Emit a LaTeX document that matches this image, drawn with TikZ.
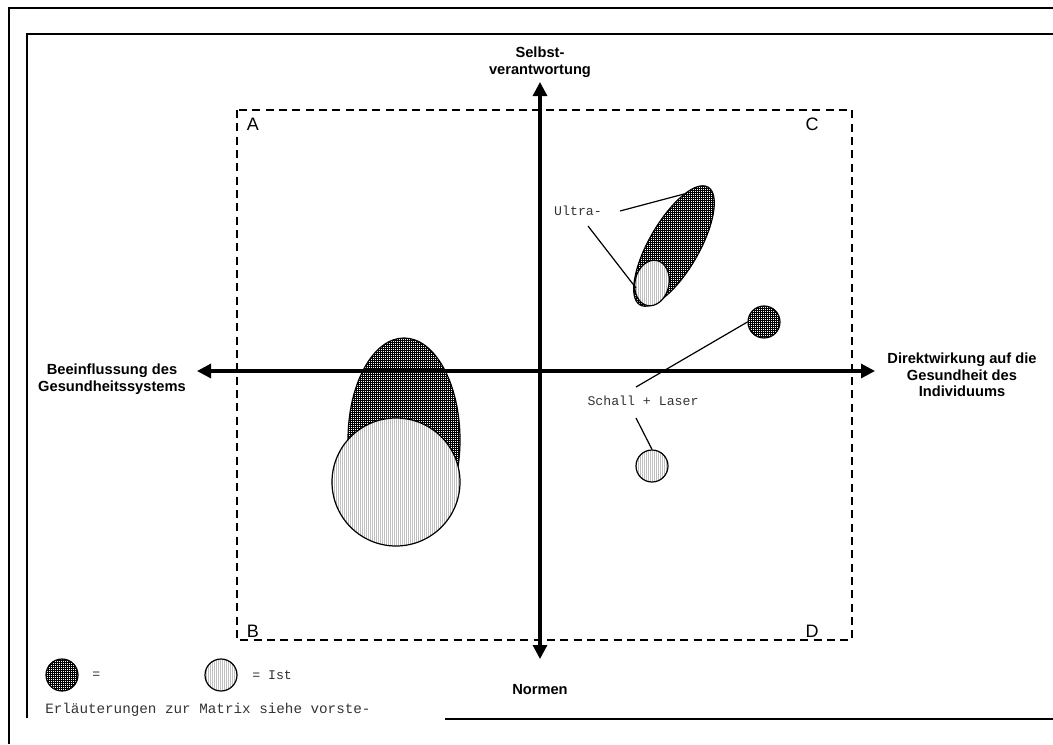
\documentclass[tikz,border=0pt]{standalone}
\usepackage{fontspec}
\setmainfont{Liberation Sans}
\newfontfamily\monofont{Liberation Mono}
\usetikzlibrary{arrows.meta,patterns.meta,shapes.geometric}
\begin{document}
\begin{tikzpicture}[x=0.75pt,y=-0.75pt,
  frameline/.style={line width=2.2pt},
  innerline/.style={line width=1.7pt},
  axis/.style={line width=2.3pt,-{Triangle[length=10.5pt,width=10.5pt]}},
  quad/.style={dashed,line width=0.8pt,dash pattern=on 6pt off 4pt},
  axislabel/.style={font=\bfseries\fontsize{11}{12.5}\selectfont,align=center,inner sep=0pt},
  letter/.style={font=\fontsize{13.5}{14}\selectfont,inner sep=0pt},
  mono/.style={font=\monofont\fontsize{9.9}{11}\selectfont,inner sep=0pt,text=black!80},
  darkfill/.style={draw,line width=0.9pt,preaction={fill=white},pattern={Hatch[angle=0,distance=1.5pt,line width=0.65pt]}},
  lightfill/.style={draw,line width=0.9pt,preaction={fill=white},pattern={Lines[angle=90,distance=1.5pt,line width=0.3pt]},pattern color=black!25},
  leader/.style={line width=0.9pt}]
\useasboundingbox (0,0) rectangle (1053,744);
% frames
\draw[frameline] (9,744) -- (9,8) -- (1053,8);
\draw[innerline] (27,718) -- (27,34) -- (1053,34);
\draw[innerline] (445,719) -- (1053,719);
% dashed quadrant box
\draw[quad] (237,110) rectangle (852,640);
\node[letter] (qa) at (253,124) {A};
\node[letter] (qc) at (812,124) {C};
\node[letter] (qb) at (253,631) {B};
\node[letter] (qd) at (812,631) {D};
% left shapes
\node[ellipse,darkfill,inner sep=0pt,minimum width=84pt,minimum height=153pt] (soll1) at (404,440) {};
\node[circle,lightfill,inner sep=0pt,minimum size=96pt] (ist1) at (396,482) {};
% axes
\coordinate (cen) at (540,371);
\coordinate (ytop) at (540,82);
\coordinate (ybot) at (540,659);
\coordinate (xleft) at (197,371);
\coordinate (xright) at (875,371);
\draw[axis] (cen) -- (ytop);
\draw[axis] (cen) -- (ybot);
\draw[axis] (cen) -- (xleft);
\draw[axis] (cen) -- (xright);
\node[axislabel] (lt) at (540,62) {Selbst-\\verantwortung};
\node[axislabel] (lb) at (540,690) {Normen};
\node[axislabel] (ll) at (112,379) {Beeinflussung des\\Gesundheitssystems};
\node[axislabel] (lr) at (962,375) {Direktwirkung auf die\\Gesundheit des\\Individuums};
% Ultra
\node[ellipse,darkfill,inner sep=0pt,minimum width=102pt,minimum height=37.5pt,rotate=60] (soll2) at (674,246) {};
\node[ellipse,lightfill,inner sep=0pt,minimum width=25.5pt,minimum height=34.5pt,rotate=-12] (ist2) at (652,283) {};
\node[mono] (ultra) at (578,211) {Ultra-};
\coordinate (u1s) at (620,211);
\coordinate (u1e) at (684,194);
\coordinate (u2s) at (588,226);
\coordinate (u2e) at (636,288);
\draw[leader] (u1s) -- (u1e);
\draw[leader] (u2s) -- (u2e);
% Schall + Laser
\node[circle,darkfill,inner sep=0pt,minimum size=24pt] (soll3) at (764,322) {};
\node[circle,lightfill,inner sep=0pt,minimum size=24pt] (ist3) at (652,466) {};
\node[mono] (sl) at (643,401) {Schall + Laser};
\coordinate (s1e) at (636,387);
\coordinate (s2s) at (636,418);
\draw[leader] (soll3.west) -- (s1e);
\draw[leader] (s2s) -- (ist3.north);
% legend
\node[circle,darkfill,inner sep=0pt,minimum size=24pt] (legd) at (62,675) {};
\node[mono,anchor=west] (legdt) at (92,675) {=};
\node[circle,lightfill,inner sep=0pt,minimum size=24pt] (legl) at (221,675) {};
\node[mono,anchor=west] (leglt) at (252,675) {= Ist};
\node[mono,anchor=west,font=\monofont\fontsize{10.7}{11}\selectfont] (note) at (45,710) {Erläuterungen zur Matrix siehe vorste-};
\end{tikzpicture}
\end{document}
